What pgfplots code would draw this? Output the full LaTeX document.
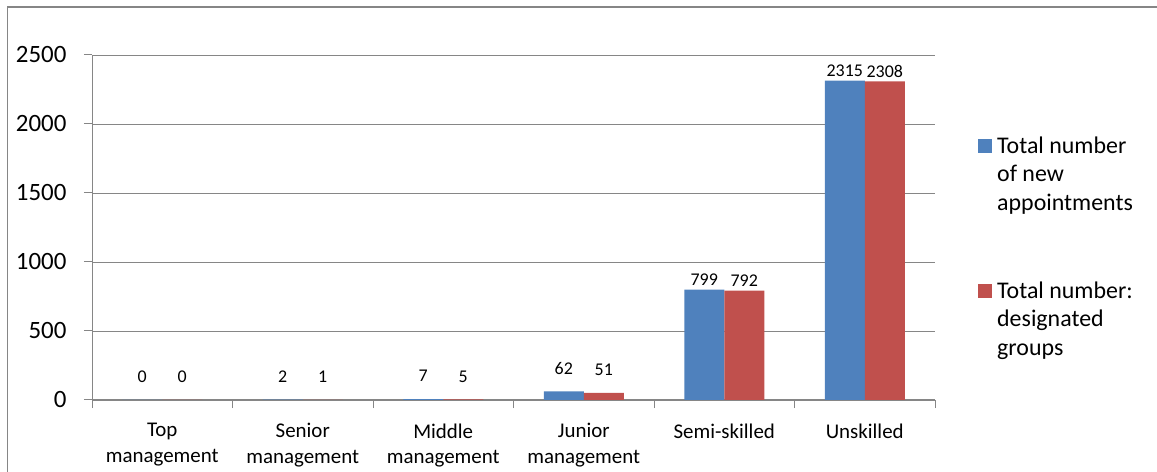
\documentclass[border=0pt]{standalone}
\usepackage{pgfplots}
\pgfplotsset{compat=1.18}
\usepackage{fontspec}
\setmainfont{Carlito}
\definecolor{serA}{HTML}{4F81BD}
\definecolor{serB}{HTML}{C0504D}
\definecolor{linegray}{HTML}{868686}
\begin{document}
\begin{tikzpicture}
\useasboundingbox (0,0) rectangle (1157bp,472bp);
% outer chart frame
\draw[linegray, line width=1.2bp] (7.5bp,-30bp) -- (7.5bp,465bp) -- (1190bp,465bp);
\begin{axis}[
  at={(92bp,72bp)}, anchor=south west,
  scale only axis, width=843bp, height=345bp,
  xmin=-0.5, xmax=5.5, ymin=0, ymax=2500,
  axis lines*=left,
  axis line style={linegray, line width=1bp},
  /pgf/number format/assume math mode=true,
  /pgf/number format/1000 sep={},
  ytick={0,500,...,2500},
  ymajorgrids, grid style={linegray, line width=0.9bp},
  tick align=outside, major tick length=8bp,
  tick style={linegray, line width=1bp},
  yticklabel style={font=\fontsize{25}{30}\selectfont, anchor=east, xshift=-14bp},
  xtick={-0.5,0.5,...,5.5}, xticklabels={},
  extra x ticks={0,1,2,3,4,5},
  extra x tick labels={{Top\\management},{Senior\\management},{Middle\\management},{Junior\\management},{Semi-skilled},{Unskilled}},
  extra x tick style={major tick length=0pt, tick style={draw=none},
    xticklabel style={font=\fontsize{21}{25.6}\selectfont, align=center, anchor=north, yshift=-20bp}},
  ybar=0pt, bar width=40bp,
  visualization depends on={rawy \as \rawy},
  nodes near coords,
  every node near coord/.append style={font=\fontsize{18}{20}\selectfont, black, inner sep=1bp, anchor=south,
    yshift={3+ifthenelse(\rawy<100,13,0)}},
  legend style={at={(1.051,0.7652)}, anchor=north west, draw=none, fill=none, inner sep=0pt,
    font=\fontsize{24}{29}\selectfont, row sep=69bp, column sep=5bp,
    nodes={inner sep=0pt, anchor=north west, align=left}},
  legend image code/.code={\fill[#1] (0bp,-3bp) rectangle (14bp,-17bp);},
]
\addplot[fill=serA, draw=none] coordinates {(0,0) (1,2) (2,7) (3,62) (4,799) (5,2315)};
\addlegendentry{Total number\\of new\\appointments}
\addplot[fill=serB, draw=none] coordinates {(0,0) (1,1) (2,5) (3,51) (4,792) (5,2308)};
\addlegendentry{Total number:\\designated\\groups}
\end{axis}
\end{tikzpicture}
\end{document}
